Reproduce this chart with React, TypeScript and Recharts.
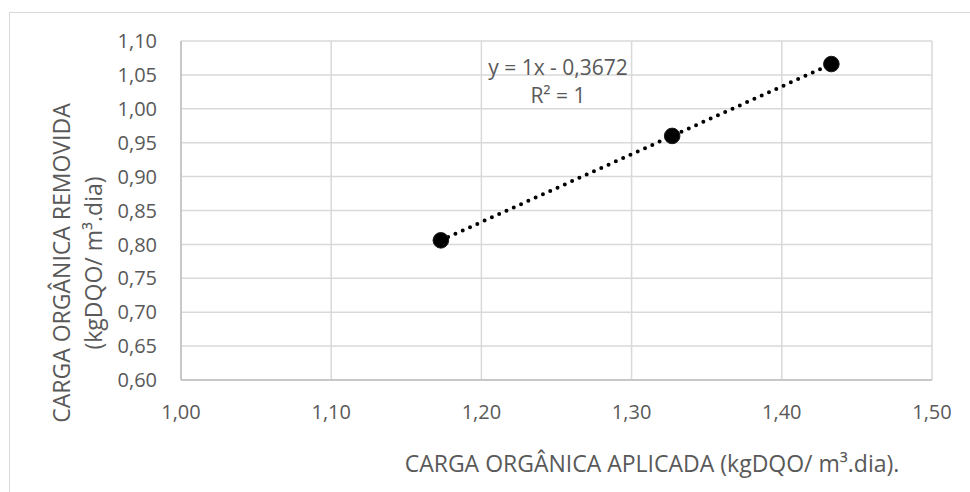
import { ScatterChart, Scatter, XAxis, YAxis, CartesianGrid } from 'recharts'

const cargaAplicada = [1.173, 1.327, 1.433]
const cargaRemovida = [0.806, 0.96, 1.066]
const xTicks = [1.0, 1.1, 1.2, 1.3, 1.4, 1.5]
const yTicks = [0.6, 0.65, 0.7, 0.75, 0.8, 0.85, 0.9, 0.95, 1.0, 1.05, 1.1]
const equationLines = ['y = 1x - 0,3672', 'R² = 1']
const xTitle = 'CARGA ORGÂNICA APLICADA (kgDQO/ m³.dia).'
const yTitle = ['CARGA ORGÂNICA REMOVIDA', '(kgDQO/ m³.dia)']

const W = 970
const H = 492
const FONT = '"Open Sans", sans-serif'
const TEXT = '#595959'

const fmt = (v: number) => v.toFixed(2).replace('.', ',')

function Dot(props: any) {
  const { cx, cy } = props
  if (cx == null || cy == null) return null
  return <circle cx={cx} cy={cy} r={7.8} fill="#000" stroke="#1a1a1a" strokeWidth={1} />
}

export default function App() {
  const data = cargaAplicada.map((x, i) => ({ x, y: cargaRemovida[i] }))
  const tickStyle = { fill: TEXT, fontSize: 20, fontFamily: FONT }

  return (
    <div style={{ position: 'absolute', left: 0, top: 0, width: W, height: H, overflow: 'hidden', background: '#fff', fontFamily: FONT }}>
      <div
        style={{
          position: 'absolute', left: 9, top: 12, width: W, height: H,
          borderLeft: '1.5px solid #d9d9d9', borderTop: '1.5px solid #d9d9d9',
        }}
      />
      <ScatterChart width={W} height={H} margin={{ top: 41, right: 38, bottom: 0, left: 0 }} style={{ position: 'absolute', left: 0, top: 0 }}>
        <CartesianGrid stroke="#d9d9d9" strokeWidth={1.5} />
        <XAxis
          type="number"
          dataKey="x"
          domain={[1, 1.5]}
          ticks={xTicks}
          tickFormatter={fmt}
          tick={tickStyle}
          tickLine={false}
          tickSize={0}
          tickMargin={25}
          height={112}
          stroke="#bfbfbf"
          strokeWidth={1.5}
          allowDataOverflow
        />
        <YAxis
          type="number"
          dataKey="y"
          domain={[0.6, 1.1]}
          ticks={yTicks}
          tickFormatter={fmt}
          tick={tickStyle}
          tickLine={false}
          tickSize={0}
          tickMargin={24}
          width={181}
          stroke="#bfbfbf"
          strokeWidth={1.5}
          allowDataOverflow
        />
        <Scatter
          data={data}
          isAnimationActive={false}
          shape={<Dot />}
          line={{ stroke: '#000', strokeWidth: 4, strokeDasharray: '0 8', strokeLinecap: 'round' }}
          lineType="joint"
        />
      </ScatterChart>

      {equationLines.map((t, i) => (
        <div
          key={t}
          style={{
            position: 'absolute', left: 558, top: 67 + i * 28, transform: 'translate(-50%, -50%)',
            whiteSpace: 'nowrap', fontSize: 21, lineHeight: 1, color: TEXT,
          }}
        >
          {t}
        </div>
      ))}

      <div
        style={{
          position: 'absolute', left: 652, top: 463, transform: 'translate(-50%, -50%)',
          whiteSpace: 'nowrap', fontSize: 23, lineHeight: 1, color: TEXT,
        }}
      >
        {xTitle}
      </div>

      {yTitle.map((t, i) => (
        <div
          key={t}
          style={{
            position: 'absolute', left: 61 + i * 32, top: 263, transform: 'translate(-50%, -50%) rotate(-90deg)',
            whiteSpace: 'nowrap', fontSize: 23, lineHeight: 1, color: TEXT,
          }}
        >
          {t}
        </div>
      ))}
    </div>
  )
}
